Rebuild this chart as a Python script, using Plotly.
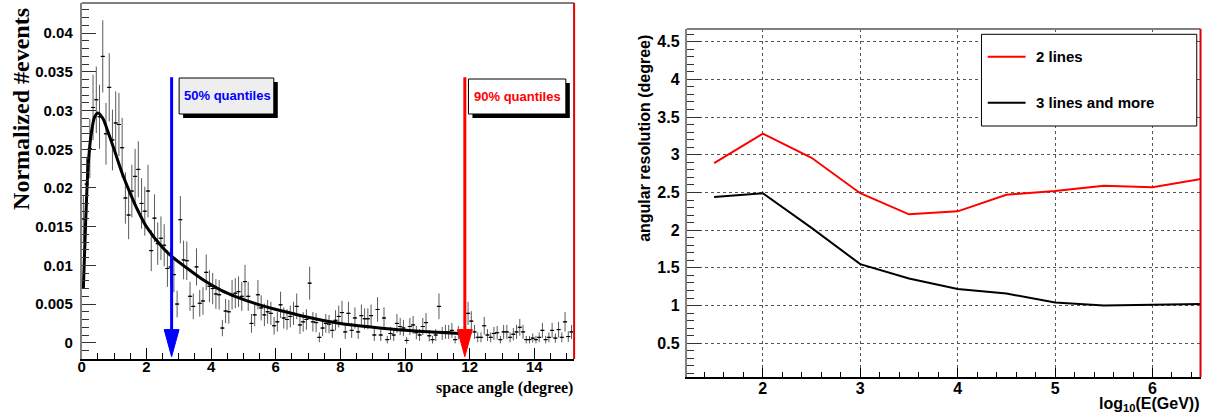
import numpy as np
import plotly.graph_objects as go

W, H = 1209, 419

# ---------------- left panel: space-angle distribution ----------------
bin_width = 0.1  # degrees
angle_hist = [
    0.0160, 0.0205, 0.0251, 0.0304, 0.0314, 0.0292, 0.0370, 0.0270, 0.0330, 0.0262,  # 0.0 - 1.0
    0.0284, 0.0282, 0.0252, 0.0187, 0.0165, 0.0196, 0.0215, 0.0224, 0.0180, 0.0170,  # 1.0 - 2.0
    0.0196, 0.0119, 0.0161, 0.0128, 0.0135, 0.0126, 0.0096, 0.0098, 0.0088, 0.0050,  # 2.0 - 3.0
    0.0159, 0.0107, 0.0106, 0.0060, 0.0047, 0.0098, 0.0051, 0.0054, 0.0091, 0.0073,  # 3.0 - 4.0
    0.0070, 0.0063, 0.0062, 0.0019, 0.0041, 0.0040, 0.0062, 0.0064, 0.0066, 0.0060,  # 4.0 - 5.0
    0.0079, 0.0060, 0.0025, 0.0036, 0.0062, 0.0045, 0.0036, 0.0040, 0.0038, 0.0022,  # 5.0 - 6.0
    0.0027, 0.0049, 0.0032, 0.0030, 0.0034, 0.0038, 0.0047, 0.0023, 0.0027, 0.0030,  # 6.0 - 7.0
    0.0077, 0.0027, 0.0026, 0.0007, 0.0019, 0.0025, 0.0024, 0.0016, 0.0029, 0.0034,  # 7.0 - 8.0
    0.0039, 0.0014, 0.0038, 0.0016, 0.0032, 0.0014, 0.0035, 0.0031, 0.0031, 0.0035,  # 8.0 - 9.0
    0.0010, 0.0043, 0.0010, 0.0032, 0.0004, 0.0012, 0.0010, 0.0025, 0.0021, 0.0019,  # 9.0 - 10.0
    0.0003, 0.0021, 0.0023, 0.0013, 0.0010, 0.0021, 0.0026, 0.0009, 0.0004, 0.0010,  # 10.0 - 11.0
    0.0047, 0.0012, 0.0014, 0.0014, 0.0016, 0.0004, 0.0013, 0.0010, 0.0008, 0.0038,  # 11.0 - 12.0
    0.0028, 0.0014, 0.0007, 0.0007, 0.0022, 0.0010, 0.0007, 0.0012, 0.0013, 0.0004,  # 12.0 - 13.0
    0.0014, 0.0014, 0.0007, 0.0011, 0.0014, 0.0020, 0.0014, 0.0004, 0.0004, 0.0006,  # 13.0 - 14.0
    0.0004, 0.0007, 0.0016, 0.0004, 0.0007, 0.0016, 0.0006, 0.0017, 0.0007, 0.0027,  # 14.0 - 15.0
    0.0008, 0.0014,                                                                  # 15.0 - 15.2
]
n_events = 1700  # normalisation used for the Poisson error bars

fit_angle = [0.05, 0.12, 0.2, 0.3, 0.4, 0.5, 0.65, 0.8, 1.0, 1.25, 1.5, 1.7, 2.0,
             2.5, 2.8, 3.3, 3.8, 4.3, 4.8, 5.5, 6.2, 7.0, 8.0, 9.0, 10.0, 11.0, 11.7]
fit_value = [0.0070, 0.0155, 0.0230, 0.0272, 0.0292, 0.0297, 0.0290, 0.0274, 0.0250,
             0.0219, 0.0193, 0.0174, 0.0150, 0.0123, 0.0111, 0.0095, 0.0080, 0.0068,
             0.0059, 0.0049, 0.0041, 0.0033, 0.0025, 0.0020, 0.0016, 0.00135, 0.0012]

quantile_50 = 2.78
quantile_90 = 11.85

# ---------------- right panel: angular resolution vs energy ----------------
log_energy = [1.5, 2.0, 2.5, 3.0, 3.5, 4.0, 4.5, 5.0, 5.5, 6.0, 6.5]
res_two_lines = [2.89, 3.28, 2.96, 2.49, 2.21, 2.25, 2.47, 2.52, 2.59, 2.57, 2.68]
res_three_more = [2.44, 2.49, 2.03, 1.55, 1.36, 1.22, 1.16, 1.04, 1.00, 1.01, 1.02]


def fx(px):
    return px / W


def fy(py):
    return 1 - py / H


hist = np.array(angle_hist)
centers = (np.arange(len(hist)) + 0.5) * bin_width
errors = np.sqrt(hist / n_events)

SANS = "Liberation Sans, Arial, sans-serif"
SERIF = "Liberation Serif, Times New Roman, serif"

fig = go.Figure()

fig.add_trace(go.Scatter(
    x=centers, y=hist, mode="markers", xaxis="x", yaxis="y",
    marker=dict(symbol="line-ew", size=3, color="black", line=dict(width=1, color="black")),
    error_y=dict(type="data", array=errors, color="#5a5a5a", thickness=1, width=0),
    error_x=dict(type="constant", value=bin_width / 2, color="black", thickness=1, width=0),
    showlegend=False, hoverinfo="skip",
))
fig.add_trace(go.Scatter(
    x=fit_angle, y=fit_value, mode="lines", xaxis="x", yaxis="y",
    line=dict(color="black", width=3, shape="spline", smoothing=0.8),
    showlegend=False, hoverinfo="skip",
))

fig.add_trace(go.Scatter(
    x=log_energy, y=res_two_lines, mode="lines", xaxis="x2", yaxis="y2",
    line=dict(color="#ff0000", width=2), name="2 lines", showlegend=False,
))
fig.add_trace(go.Scatter(
    x=log_energy, y=res_three_more, mode="lines", xaxis="x2", yaxis="y2",
    line=dict(color="black", width=2), name="3 lines and more", showlegend=False,
))

tickfont = dict(family=SANS, size=15, color="black", weight="bold")

fig.update_layout(
    width=W, height=H, autosize=False,
    margin=dict(l=0, r=0, t=0, b=0),
    paper_bgcolor="white", plot_bgcolor="white",
    xaxis=dict(
        domain=[fx(78), fx(572)], range=[0, 15.23], anchor="y",
        tickmode="linear", tick0=0, dtick=2,
        ticks="inside", ticklen=11, tickwidth=1, tickcolor="black",
        minor=dict(dtick=0.5, ticks="inside", ticklen=6, tickwidth=1, tickcolor="black"),
        showline=True, linecolor="black", linewidth=2,
        showgrid=False, zeroline=False, tickfont=tickfont, ticklabelstandoff=-7,
    ),
    yaxis=dict(
        domain=[fy(359), fy(3)], range=[-0.0021, 0.0439], anchor="x",
        tickmode="linear", tick0=0, dtick=0.005,
        ticks="inside", ticklen=14, tickwidth=1, tickcolor="#333",
        minor=dict(dtick=0.001, ticks="inside", ticklen=7, tickwidth=1, tickcolor="#333"),
        showline=True, linecolor="#808080", linewidth=2,
        showgrid=False, zeroline=False, tickfont=tickfont, ticklabelstandoff=4,
    ),
    xaxis2=dict(
        domain=[fx(685), fx(1200.5)], range=[1.219, 6.493], anchor="y2",
        tickmode="linear", tick0=0, dtick=1,
        ticks="inside", ticklen=9, tickwidth=1, tickcolor="black",
        minor=dict(dtick=0.2, ticks="inside", ticklen=5, tickwidth=1, tickcolor="black"),
        showline=True, linecolor="black", linewidth=2,
        showgrid=True, gridcolor="#555", gridwidth=1, griddash="dot",
        zeroline=False, tickfont=dict(tickfont, size=16), ticklabelstandoff=-4,
    ),
    yaxis2=dict(
        domain=[fy(377), fy(29)], range=[0.053, 4.668], anchor="x2",
        tickmode="linear", tick0=0, dtick=0.5,
        ticks="inside", ticklen=14, tickwidth=1, tickcolor="#333",
        minor=dict(dtick=0.1, ticks="inside", ticklen=7, tickwidth=1, tickcolor="#333"),
        showline=True, linecolor="#808080", linewidth=2,
        showgrid=True, gridcolor="#555", gridwidth=1, griddash="dot",
        zeroline=False, tickfont=dict(tickfont, size=16), ticklabelstandoff=2,
    ),
)

shapes = []
annotations = []

# frame edges (top in grey, right edge in red)
for x0, x1, y0, y1 in [(78, 572, 3, 359), (685, 1200.5, 29, 377)]:
    shapes.append(dict(type="line", xref="paper", yref="paper",
                       x0=fx(x0), x1=fx(x1), y0=fy(y0), y1=fy(y0),
                       line=dict(color="#808080", width=2)))
    shapes.append(dict(type="line", xref="paper", yref="paper",
                       x0=fx(x1), x1=fx(x1), y0=fy(y0), y1=fy(y1),
                       line=dict(color="#e00000", width=2)))

# quantile arrows
arrow_top = 0.0343
head_base = 0.0017
head_tip = -0.0018
head_half = 0.23
for q, col in [(quantile_50, "#0000ff"), (quantile_90, "#ff0000")]:
    shapes.append(dict(type="line", xref="x", yref="y", x0=q, x1=q,
                       y0=arrow_top, y1=head_base, line=dict(color=col, width=3)))
    shapes.append(dict(type="path", xref="x", yref="y",
                       path=f"M {q - head_half},{head_base} L {q + head_half},{head_base} L {q},{head_tip} Z",
                       fillcolor=col, line=dict(color=col, width=1)))

# quantile label boxes with drop shadow
for (bx0, by0, bx1, by1), fill, col, label, tx in [
    ((175.7, 78, 270.7, 114), "#eeeeee", "#0000ff", "50% quantiles", 178.5),
    ((466, 79, 563.7, 114), "white", "#ff0000", "90% quantiles", 470),
]:
    shapes.append(dict(type="rect", xref="paper", yref="paper",
                       x0=fx(bx0 + 4), x1=fx(bx1 + 4), y0=fy(by1 + 4), y1=fy(by0 + 4),
                       fillcolor="black", line=dict(width=0)))
    shapes.append(dict(type="rect", xref="paper", yref="paper",
                       x0=fx(bx0), x1=fx(bx1), y0=fy(by1), y1=fy(by0),
                       fillcolor=fill, line=dict(color="black", width=1)))
    annotations.append(dict(xref="paper", yref="paper", x=fx(tx), y=fy((by0 + by1) / 2),
                            xanchor="left", yanchor="middle", showarrow=False, text=label,
                            font=dict(family=SANS, size=13, color=col, weight="bold")))

# legend box for the right panel
shapes.append(dict(type="rect", xref="paper", yref="paper",
                   x0=fx(980.7), x1=fx(1196.7), y0=fy(126), y1=fy(34.3),
                   fillcolor="white", line=dict(color="black", width=1)))
for name, col, ly in [("2 lines", "#ff0000", 56.7), ("3 lines and more", "black", 102.7)]:
    shapes.append(dict(type="line", xref="paper", yref="paper",
                       x0=fx(987), x1=fx(1025), y0=fy(ly), y1=fy(ly),
                       line=dict(color=col, width=2)))
    annotations.append(dict(xref="paper", yref="paper", x=fx(1033), y=fy(ly),
                            xanchor="left", yanchor="middle", showarrow=False, text=name,
                            font=dict(family=SANS, size=15, color="black", weight="bold")))

# axis titles
annotations += [
    dict(xref="paper", yref="paper", x=fx(17), y=fy(109), textangle=-90,
         xanchor="center", yanchor="middle", showarrow=False, text="Normalized #events",
         font=dict(family=SERIF, size=24, color="black", weight="bold")),
    dict(xref="paper", yref="paper", x=fx(573), y=fy(388),
         xanchor="right", yanchor="middle", showarrow=False, text="space angle (degree)",
         font=dict(family=SERIF, size=16, color="black", weight="bold")),
    dict(xref="paper", yref="paper", x=fx(643), y=fy(138), textangle=-90,
         xanchor="center", yanchor="middle", showarrow=False, text="angular resolution (degree)",
         font=dict(family=SANS, size=16, color="black", weight="bold")),
    dict(xref="paper", yref="paper", x=fx(1201), y=fy(404),
         xanchor="right", yanchor="middle", showarrow=False, text="log<sub>10</sub>(E(GeV))",
         font=dict(family=SANS, size=16, color="black", weight="bold")),
]

fig.update_layout(shapes=shapes, annotations=annotations)

fig.write_html("out.html")
